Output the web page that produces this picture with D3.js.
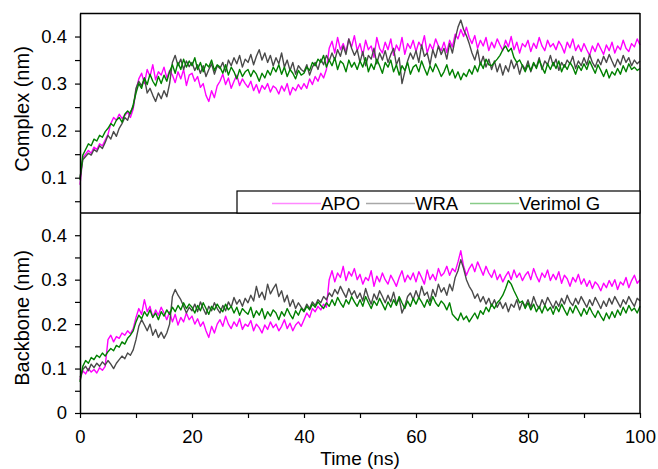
<!DOCTYPE html>
<html>
<head>
<meta charset="utf-8">
<script src="https://cdn.jsdelivr.net/npm/d3@7"></script>
<style>
  body { margin: 0; background: #ffffff; }
  svg { display: block; }
</style>
</head>
<body>
<div id="chart"></div>
<script>
// samples every 0.5 ns, rmsd values in 1e-3 nm
var step = 0.5;
var seriesNames = ["APO", "WRA", "Verimol G"];
var xTicks = [0, 10, 20, 30, 40, 50, 60, 70, 80, 90, 100];
var topTicks = [0.05, 0.1, 0.15, 0.2, 0.25, 0.3, 0.35, 0.4];
var bottomTicks = [0, 0.05, 0.1, 0.15, 0.2, 0.25, 0.3, 0.35, 0.4];

// complex rmsd
var apoComplex = [
  85,142,150,158,152,165,160,172,168,180,
  192,215,228,222,235,226,232,240,228,246,
  285,310,322,300,330,315,340,308,325,318,
  335,312,328,318,302,325,310,330,296,318,
  322,305,315,292,300,275,262,285,270,295,
  305,320,298,312,290,305,318,296,310,300,
  292,305,285,298,280,296,288,300,282,295,
  290,278,295,284,300,276,292,285,298,288,
  300,290,310,298,315,305,322,312,330,375,
  390,365,398,372,385,368,395,378,402,370,
  385,360,392,372,380,356,398,375,365,388,
  372,395,360,382,370,398,362,385,375,392,
  368,388,378,402,365,384,372,395,380,370,
  388,366,392,378,405,395,415,400,420,398,
  385,402,375,392,380,398,370,388,376,395,
  382,370,392,378,400,372,388,365,385,378,
  392,368,386,375,398,380,370,392,378,385,
  372,390,380,365,388,376,395,370,382,368,
  385,372,360,380,368,386,374,362,382,370,
  388,365,380,372,392,375,368,385,378,395,
  382];
var wraComplex = [
  100,138,145,152,148,160,155,168,162,175,
  190,182,198,188,205,215,228,222,240,250,
  290,305,295,312,280,290,275,262,280,268,
  285,272,300,345,360,338,352,330,348,336,
  345,328,340,322,338,315,330,342,320,338,
  332,345,325,350,338,355,342,360,335,352,
  345,362,340,358,372,350,365,345,360,338,
  355,342,365,335,350,328,345,320,338,330,
  325,340,318,335,345,330,352,340,360,348,
  365,350,372,358,380,362,395,375,360,372,
  345,368,338,360,352,375,342,365,350,370,
  345,362,375,340,355,300,325,348,365,352,
  370,345,382,358,365,340,372,355,380,362,
  375,352,385,365,395,420,435,415,402,385,
  365,350,372,340,358,335,352,330,348,325,
  342,318,338,325,350,332,345,320,340,330,
  348,325,342,335,355,330,348,340,360,338,
  352,328,345,335,350,342,358,332,348,338,
  355,340,362,345,335,352,340,358,345,362,
  348,335,352,340,360,345,355,338,350,342,
  348];
var verComplex = [
  95,148,160,172,168,182,178,190,186,198,
  205,215,210,222,228,218,235,242,236,255,
  280,300,290,312,298,320,305,295,315,300,
  318,305,325,340,322,345,330,352,335,348,
  338,355,330,345,325,342,335,350,328,340,
  335,322,340,318,335,325,310,330,315,325,
  330,315,328,320,305,322,312,328,318,335,
  325,340,320,335,315,330,322,310,328,318,
  322,335,328,345,338,352,345,360,335,350,
  338,355,330,348,342,325,350,335,345,330,
  348,335,355,325,342,330,352,338,322,345,
  335,350,325,340,318,338,328,345,320,335,
  340,325,348,332,318,338,325,342,330,315,
  325,340,318,330,312,325,308,322,315,330,
  320,338,325,345,332,352,340,338,345,352,
  360,372,380,368,375,355,345,350,338,325,
  340,328,345,332,350,335,322,342,330,345,
  332,348,325,340,330,345,335,320,338,328,
  342,330,348,335,322,340,328,315,330,312,
  325,318,332,320,338,325,342,330,335,328,
  332];

// backbone rmsd
var apoBackbone = [
  75,95,88,100,92,98,90,102,96,105,
  165,175,160,172,168,180,175,185,178,190,
  215,235,222,255,228,240,215,232,220,238,
  225,210,228,205,222,198,215,205,225,210,
  218,200,212,195,205,185,170,195,180,200,
  210,195,218,200,190,205,195,212,188,200,
  195,208,185,200,192,180,198,188,205,192,
  200,185,195,210,190,202,185,198,205,195,
  210,225,215,235,228,240,232,245,238,300,
  320,295,315,305,330,298,318,308,325,300,
  312,290,305,298,320,285,308,295,315,300,
  290,310,298,285,305,320,295,310,300,315,
  295,318,305,290,322,300,312,298,325,308,
  315,330,310,325,318,340,365,330,310,325,
  335,318,340,325,310,330,315,305,322,300,
  312,295,308,318,300,322,305,315,298,310,
  318,300,325,308,295,315,305,322,298,312,
  300,318,292,310,302,285,305,295,312,290,
  302,285,298,280,295,288,275,292,282,298,
  285,300,278,295,288,305,282,298,310,292,
  300];
var wraBackbone = [
  80,98,105,95,110,102,112,105,115,108,
  118,110,100,112,120,128,122,135,130,142,
  165,195,210,198,185,200,175,188,170,182,
  168,180,200,262,278,265,255,240,225,238,
  230,245,228,250,235,222,240,230,248,235,
  225,242,230,250,238,260,245,255,240,258,
  248,265,252,285,260,272,255,290,268,280,
  290,262,275,250,265,240,255,235,248,238,
  230,245,235,250,242,255,248,262,255,270,
  262,278,268,285,272,260,280,265,275,258,
  270,252,280,260,245,268,255,275,262,248,
  265,250,272,245,258,225,240,262,270,255,
  275,258,285,265,272,250,278,262,290,272,
  282,265,290,275,305,320,345,325,300,285,
  275,258,268,250,262,245,258,240,255,238,
  250,235,248,228,245,238,255,232,250,240,
  255,238,262,245,235,255,242,260,248,236,
  252,240,258,245,265,250,242,258,245,262,
  250,238,255,242,260,248,235,252,240,258,
  245,262,250,238,255,245,262,250,240,258,
  252];
var verBackbone = [
  70,105,118,112,125,120,130,125,135,128,
  138,145,140,152,148,160,155,168,175,185,
  205,220,212,228,218,232,215,225,210,228,
  218,232,222,238,228,242,232,248,235,245,
  238,225,242,230,248,235,222,240,232,245,
  235,228,245,232,240,225,238,220,235,228,
  222,238,215,230,220,235,212,228,218,232,
  225,210,228,218,235,222,212,230,220,235,
  228,240,232,245,238,250,242,235,248,240,
  255,242,260,248,238,255,245,262,250,240,
  255,240,262,248,235,252,242,258,245,232,
  250,238,255,242,262,248,235,252,240,258,
  245,260,250,238,255,242,262,248,240,252,
  245,232,248,222,215,208,225,210,218,205,
  215,225,212,230,222,238,228,245,235,248,
  255,265,280,298,290,275,262,248,252,235,
  248,232,245,228,240,225,242,230,238,222,
  240,228,245,232,220,238,225,242,230,218,
  235,222,238,225,215,230,218,208,225,212,
  228,215,232,220,238,225,242,230,236,225,
  240];

var lineColors = ["#ff00ff", "#4a4a4a", "#008000"];
var legendColors = ["#ff88ff", "#a8a8a8", "#88cc88"];

var width = 658, height = 469;
var left = 80, right = 640;
var font = "'Liberation Sans', Arial, Helvetica, sans-serif";

var svg = d3.select("#chart").append("svg")
    .attr("width", width)
    .attr("height", height);

var x = d3.scaleLinear().domain([0, 100]).range([left, right]);
var yTop = d3.scaleLinear().domain([0.025, 0.45]).range([213, 13]);
var yBot = d3.scaleLinear().domain([0, 0.45]).range([413, 213]);

function toPoints(arr) {
    return arr.map(function (v, i) { return { t: i * step, v: v / 1000 }; });
}

function labelFmt(majors) {
    return function (d) {
        if (majors.indexOf(d) < 0) return "";
        return d === 0 ? "0" : d.toFixed(1);
    };
}

// draw the three traces of one panel
function drawPanel(y, arrays) {
    var line = d3.line()
        .x(function (d) { return x(d.t); })
        .y(function (d) { return y(d.v); });
    arrays.forEach(function (arr, i) {
        svg.append("path")
            .attr("d", line(toPoints(arr)))
            .attr("fill", "none")
            .attr("stroke", lineColors[i])
            .attr("stroke-width", 1.4)
            .attr("stroke-linejoin", "round");
    });
}

drawPanel(yTop, [apoComplex, wraComplex, verComplex]);
drawPanel(yBot, [apoBackbone, wraBackbone, verBackbone]);

// frame lines
svg.append("line").attr("x1", left).attr("x2", right).attr("y1", 13.5).attr("y2", 13.5)
    .attr("stroke", "#000").attr("stroke-width", 1.5);
svg.append("line").attr("x1", right).attr("x2", right).attr("y1", 13).attr("y2", 413)
    .attr("stroke", "#000").attr("stroke-width", 1.5);
svg.append("line").attr("x1", left).attr("x2", right).attr("y1", 213).attr("y2", 213)
    .attr("stroke", "#000").attr("stroke-width", 1.5);

// axes
var gTop = svg.append("g").attr("transform", "translate(" + left + ",0)")
    .call(d3.axisLeft(yTop).tickValues(topTicks).tickFormat(labelFmt([0.1, 0.2, 0.3, 0.4]))
        .tickSize(5).tickSizeOuter(0).tickPadding(8));
var gBot = svg.append("g").attr("transform", "translate(" + left + ",0)")
    .call(d3.axisLeft(yBot).tickValues(bottomTicks).tickFormat(labelFmt([0, 0.1, 0.2, 0.3, 0.4]))
        .tickSize(5).tickSizeOuter(0).tickPadding(8));
var gX = svg.append("g").attr("transform", "translate(0,413)")
    .call(d3.axisBottom(x).tickValues(xTicks)
        .tickFormat(function (d) { return d % 20 === 0 ? d : ""; })
        .tickSize(5).tickSizeOuter(0).tickPadding(12));

[gTop, gBot, gX].forEach(function (g) {
    g.attr("font-family", font).attr("font-size", 18.5);
    g.selectAll("path.domain").attr("stroke-width", 1.5);
    g.selectAll(".tick line").attr("stroke-width", 1.2);
    g.selectAll("text").attr("fill", "#000");
});

// axis titles
svg.append("text")
    .text("Complex (nm)")
    .attr("transform", "translate(29,109) rotate(-90)")
    .attr("text-anchor", "middle")
    .attr("font-family", font)
    .attr("font-size", 20);
svg.append("text")
    .text("Backbone (nm)")
    .attr("transform", "translate(29,318) rotate(-90)")
    .attr("text-anchor", "middle")
    .attr("font-family", font)
    .attr("font-size", 20);
svg.append("text")
    .text("Time (ns)")
    .attr("x", x(50))
    .attr("y", 465)
    .attr("text-anchor", "middle")
    .attr("font-family", font)
    .attr("font-size", 19);

// legend box
svg.append("rect")
    .attr("x", 237).attr("y", 191)
    .attr("width", right - 237).attr("height", 22)
    .attr("fill", "#fff")
    .attr("stroke", "#000")
    .attr("stroke-width", 1.2);

var legendX = [272, 366, 470];
seriesNames.forEach(function (name, i) {
    svg.append("line")
        .attr("x1", legendX[i]).attr("x2", legendX[i] + 49)
        .attr("y1", 203.5).attr("y2", 203.5)
        .attr("stroke", legendColors[i])
        .attr("stroke-width", 1.6);
    svg.append("text")
        .text(name)
        .attr("x", legendX[i] + 49)
        .attr("y", 210)
        .attr("font-family", font)
        .attr("font-size", 18.5);
});
</script>
</body>
</html>
